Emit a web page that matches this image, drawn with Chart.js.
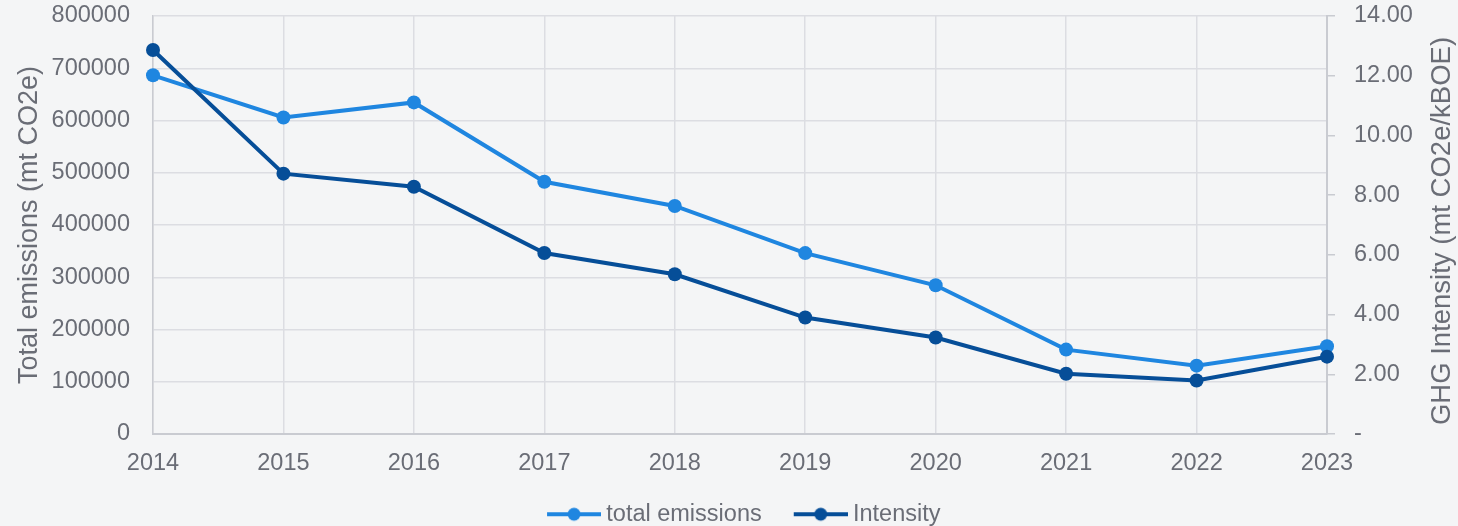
<!DOCTYPE html>
<html>
<head>
<meta charset="utf-8">
<script src="https://cdn.jsdelivr.net/npm/chart.js@4/dist/chart.umd.min.js"></script>
<style>
  html, body { margin: 0; padding: 0; background: #f4f5f6; }
  #wrap { width: 1458px; height: 526px; position: relative; }
</style>
</head>
<body>
<div id="wrap"><canvas id="chart"></canvas></div>
<script>
// Emissions vs intensity, 2014-2023
const years = ['2014', '2015', '2016', '2017', '2018', '2019', '2020', '2021', '2022', '2023'];
const totalEmissions = [686500, 605800, 634600, 482700, 436500, 346200, 284600, 161500, 130800, 167900];
const intensity = [12.86, 8.72, 8.28, 6.06, 5.35, 3.90, 3.23, 2.02, 1.79, 2.59];

const leftTitle = 'Total emissions (mt CO2e)';
const rightTitle = 'GHG Intensity (mt CO2e/kBOE)';

const lightBlue = '#1f86e0';
const darkBlue = '#064e98';
const textColor = '#6a6d76';
const gridColor = '#dcdde2';
const borderColor = '#c9cbd1';
const fontFamily = '"Liberation Sans", Arial, sans-serif';

// legend marker: short line with a dot, drawn to a small canvas
function legendIcon(color) {
    const c = document.createElement('canvas');
    c.width = 90;
    c.height = 16;
    const g = c.getContext('2d');
    g.strokeStyle = color;
    g.lineWidth = 4;
    g.beginPath();
    g.moveTo(36, 8);
    g.lineTo(90, 8);
    g.stroke();
    g.fillStyle = color;
    g.beginPath();
    g.arc(63, 8, 6.5, 0, Math.PI * 2);
    g.fill();
    return c;
}

// right axis title reads bottom-to-top like the left one
const rightTitlePlugin = {
    id: 'rightTitle',
    afterDraw(chart) {
        const { ctx } = chart;
        ctx.save();
        ctx.translate(1442, 231);
        ctx.rotate(-Math.PI / 2);
        ctx.font = '27.5px ' + fontFamily;
        ctx.fillStyle = textColor;
        ctx.textAlign = 'center';
        ctx.textBaseline = 'middle';
        ctx.fillText(rightTitle, 0, 0);
        ctx.restore();
    }
};

new Chart(document.getElementById('chart'), {
    type: 'line',
    data: {
        labels: years,
        datasets: [
            {
                label: 'total emissions',
                data: totalEmissions,
                yAxisID: 'y',
                borderColor: lightBlue,
                backgroundColor: lightBlue,
                borderWidth: 4,
                pointRadius: 7,
                pointBorderWidth: 0,
                tension: 0,
                order: 1
            },
            {
                label: 'Intensity',
                data: intensity,
                yAxisID: 'y1',
                borderColor: darkBlue,
                backgroundColor: darkBlue,
                borderWidth: 4,
                pointRadius: 7,
                pointBorderWidth: 0,
                tension: 0,
                order: 0
            }
        ]
    },
    options: {
        responsive: true,
        maintainAspectRatio: false,
        animation: false,
        layout: { padding: { top: 16, left: 0, right: 0, bottom: -10 } },
        scales: {
            x: {
                offset: false,
                grid: { color: gridColor, drawTicks: false, lineWidth: 1.5 },
                border: { color: borderColor, width: 2 },
                ticks: { color: textColor, font: { family: fontFamily, size: 23.5 }, padding: 15, maxRotation: 0 },
                afterFit(scale) { scale.height = 66; }
            },
            y: {
                position: 'left',
                min: 0,
                max: 800000,
                grid: { color: gridColor, drawTicks: false, lineWidth: 1.5 },
                border: { color: borderColor, width: 1.5 },
                ticks: {
                    stepSize: 100000,
                    color: textColor,
                    font: { family: fontFamily, size: 23.5 },
                    padding: 23,
                    callback: v => String(v)
                },
                title: {
                    display: true,
                    text: leftTitle,
                    color: textColor,
                    font: { family: fontFamily, size: 27 },
                    padding: { top: 13, bottom: 0 }
                },
                afterFit(scale) {
                    scale.width = 153;
                    scale.paddingTop = 10;
                    scale.paddingBottom = 10;
                }
            },
            y1: {
                position: 'right',
                min: 0,
                max: 14,
                grid: { drawOnChartArea: false, color: borderColor, tickLength: 8, lineWidth: 1.5 },
                border: { color: borderColor, width: 2 },
                ticks: {
                    stepSize: 2,
                    color: textColor,
                    font: { family: fontFamily, size: 23.5 },
                    padding: 19,
                    callback: v => v === 0 ? '-' : v.toFixed(2)
                },
                afterFit(scale) {
                    scale.width = 131;
                    scale.paddingTop = 10;
                    scale.paddingBottom = 10;
                }
            }
        },
        plugins: {
            legend: {
                position: 'bottom',
                labels: {
                    color: textColor,
                    font: { family: fontFamily, size: 23.5 },
                    usePointStyle: true,
                    pointStyleWidth: 77,
                    padding: 2.5,
                    generateLabels(chart) {
                        return chart.data.datasets.map((ds, i) => ({
                            text: ds.label,
                            fillStyle: ds.borderColor,
                            strokeStyle: ds.borderColor,
                            fontColor: textColor,
                            lineWidth: 0,
                            pointStyle: legendIcon(ds.borderColor),
                            hidden: false,
                            datasetIndex: i
                        }));
                    }
                }
            },
            tooltip: { enabled: false }
        }
    },
    plugins: [rightTitlePlugin]
});
</script>
</body>
</html>
